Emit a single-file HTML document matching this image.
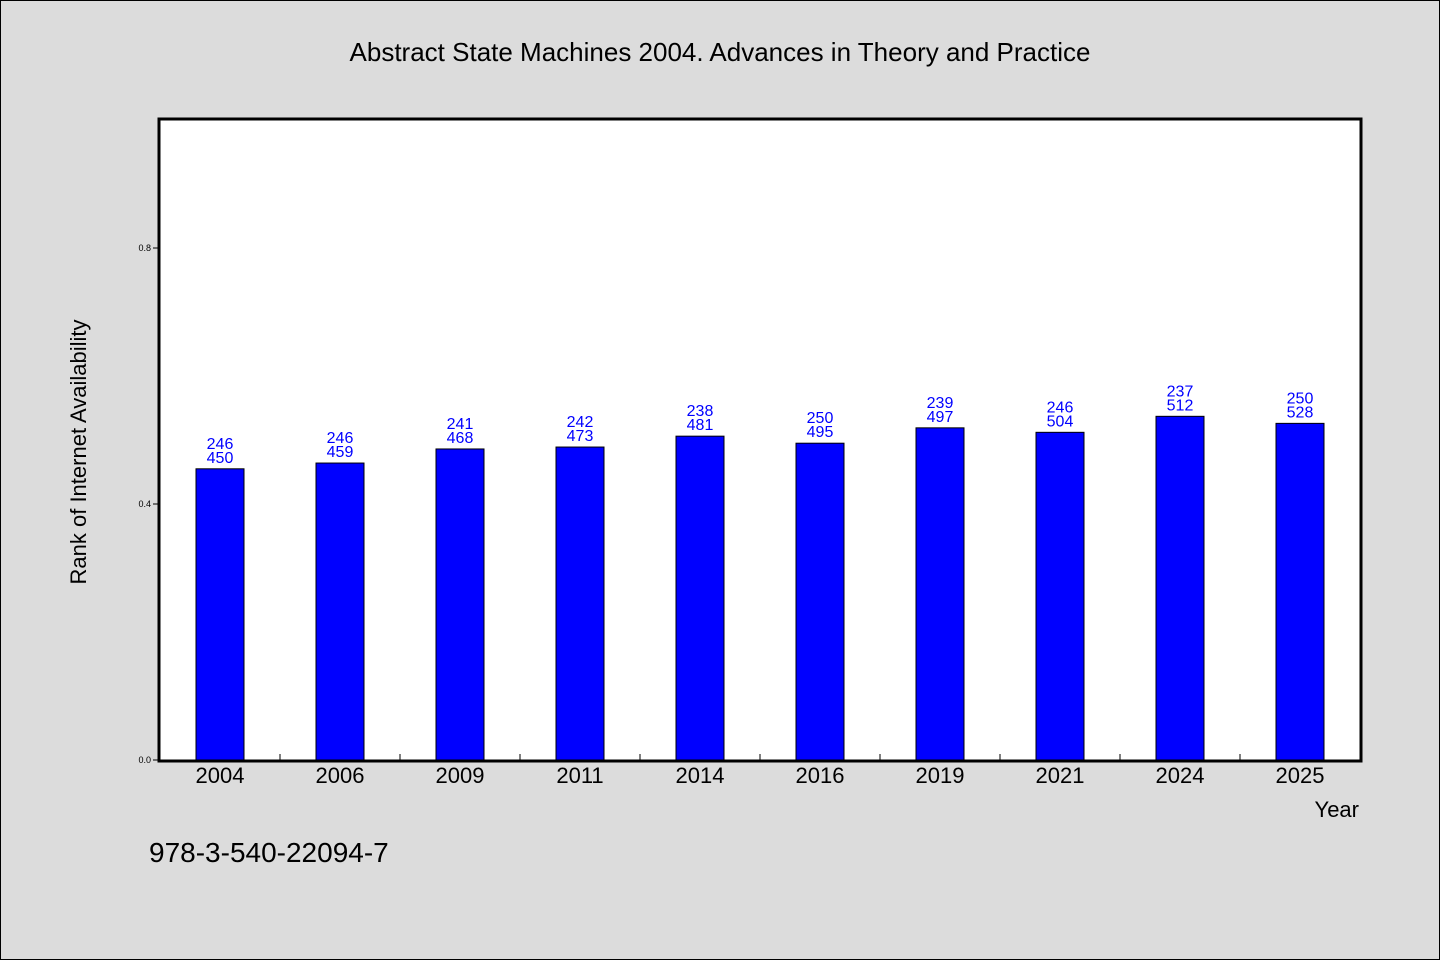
<!DOCTYPE html>
<html><head><meta charset="utf-8"><style>
html,body{margin:0;padding:0;background:#dcdcdc;}
svg{display:block;font-family:"WenQuanYi Zen Hei","Liberation Sans",sans-serif;}
</style></head><body>
<svg id="chart" width="1440" height="960">
<rect x="0.5" y="0.5" width="1439" height="959" fill="#dcdcdc" stroke="#000"/>
<text x="720" y="61" text-anchor="middle" font-size="26">Abstract State Machines 2004. Advances in Theory and Practice</text>
<rect x="159" y="119" width="1202" height="642" fill="#fff" stroke="#000" stroke-width="3"/>
<g id="bars"></g>
<text x="86" y="452" text-anchor="middle" font-size="22" transform="rotate(-90 86 452)">Rank of Internet Availability</text>
<text x="1359" y="817" text-anchor="end" font-size="22">Year</text>
<text x="149" y="862" font-size="28">978-3-540-22094-7</text>
</svg>
<script>
const categories=["2004","2006","2009","2011","2014","2016","2019","2021","2024","2025"];
const values=[0.450,0.459,0.468,0.473,0.481,0.495,0.497,0.504,0.512,0.528];
const barValues=[0.455,0.464,0.486,0.489,0.506,0.495,0.519,0.512,0.537,0.526];
const topLabels=["246","246","241","242","238","250","239","246","237","250"];
const yTicks=[0.0,0.4,0.8];
const yTickLabels=["0.0","0.4","0.8"];
const NS="http://www.w3.org/2000/svg";
const g=document.getElementById('bars');
const x0=160,step=120,y0=760,yScale=640;
const xPos=i=>x0+step*i+step/2;
const yPos=v=>y0-v*yScale;
function mk(t,a){const e=document.createElementNS(NS,t);for(const k in a)e.setAttribute(k,a[k]);g.appendChild(e);return e;}
yTicks.forEach((v,i)=>{
 const l=mk('line',{x1:153,x2:159,y1:yPos(v),y2:yPos(v),stroke:'#000'});
 
 
 const t=mk('text',{x:151,y:yPos(v)+3,'text-anchor':'end','font-size':9});
 t.textContent=yTickLabels[i];
 
 
});
categories.forEach((c,i)=>{
 const cx=xPos(i),top=yPos(barValues[i]);
 const r=mk('rect',{x:cx-24,y:top,width:48,height:y0-top,fill:'#0000ff',stroke:'#000','stroke-width':1});
 
 
 const t1=mk('text',{x:cx,y:top-20,'text-anchor':'middle','font-size':16,fill:'#0000ff'});
 t1.textContent=topLabels[i];
 
 
 const t2=mk('text',{x:cx,y:top-6,'text-anchor':'middle','font-size':16,fill:'#0000ff'});
 t2.textContent=Math.round(values[i]*1000);
 
 
 const xl=mk('text',{x:cx,y:783,'text-anchor':'middle','font-size':22});
 xl.textContent=c;
 
 
 if(i>0){const tk=mk('line',{x1:x0+step*i,x2:x0+step*i,y1:754,y2:760,stroke:'#000'});
 
 }
});
</script>
</body></html>
